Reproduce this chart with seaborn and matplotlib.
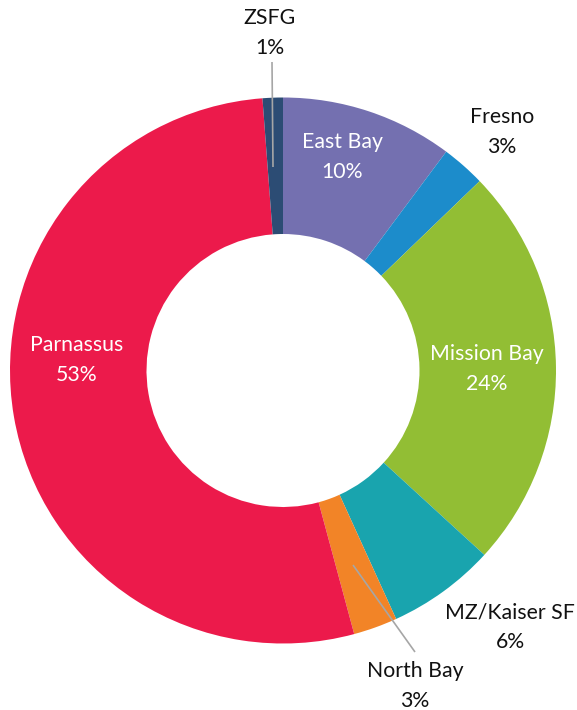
import matplotlib
matplotlib.use("Agg")
import matplotlib.pyplot as plt
import seaborn as sns

# ---- data ----
sites = ["East Bay", "Fresno", "Mission Bay", "MZ/Kaiser SF", "North Bay", "Parnassus", "ZSFG"]
shares = [10.2, 2.6, 24.0, 6.4, 2.6, 53.0, 1.2]
pct_labels = ["10%", "3%", "24%", "6%", "3%", "53%", "1%"]
colors = ["#7470B0", "#1C8CCB", "#92BE34", "#19A4AE", "#F28427", "#EC1A4B", "#2C4C74"]

# ---- layout (pixel positions of label blocks, figure 577x710) ----
W, H = 577, 710
CX, CY, R = 283, 370.5, 273
label_pos = {
    "East Bay": (342, 157, "inside"),
    "Fresno": (502, 132, "outside"),
    "Mission Bay": (487, 369, "inside"),
    "MZ/Kaiser SF": (510, 627, "outside"),
    "North Bay": (415, 686, "outside"),
    "Parnassus": (77, 360, "inside"),
    "ZSFG": (270, 33, "outside"),
}
leaders = {
    "ZSFG": ((272, 62), (273, 167)),
    "North Bay": ((353, 565), (415, 652)),
}

def px(x, y):
    return ((x - CX) / R, (CY - y) / R)

sns.set_theme(style="white")
plt.rcParams["font.family"] = ["Lato", "DejaVu Sans"]

fig = plt.figure(figsize=(W / 100, H / 100), dpi=100)
ax = fig.add_axes([0, 0, 1, 1])
ax.pie(shares, colors=colors, startangle=90, counterclock=False, radius=1.0,
       wedgeprops=dict(width=0.5, linewidth=0))
ax.set_xlim(-CX / R, (W - CX) / R)
ax.set_ylim(-(H - CY) / R, CY / R)
ax.set_aspect("auto")
ax.axis("off")

for name, (p0, p1) in leaders.items():
    x0, y0 = px(*p0)
    x1, y1 = px(*p1)
    ax.plot([x0, x1], [y0, y1], color="#A6A6A6", lw=1.2, zorder=3, solid_capstyle="butt")

for name, pct in zip(sites, pct_labels):
    x, y, where = label_pos[name]
    xd, yd = px(x, y)
    ax.text(xd, yd, f"{name}\n{pct}", ha="center", va="center",
            fontsize=15.3, linespacing=1.6,
            color="white" if where == "inside" else "#111111", zorder=4)

fig.savefig("out.png", dpi=100, facecolor="white")
